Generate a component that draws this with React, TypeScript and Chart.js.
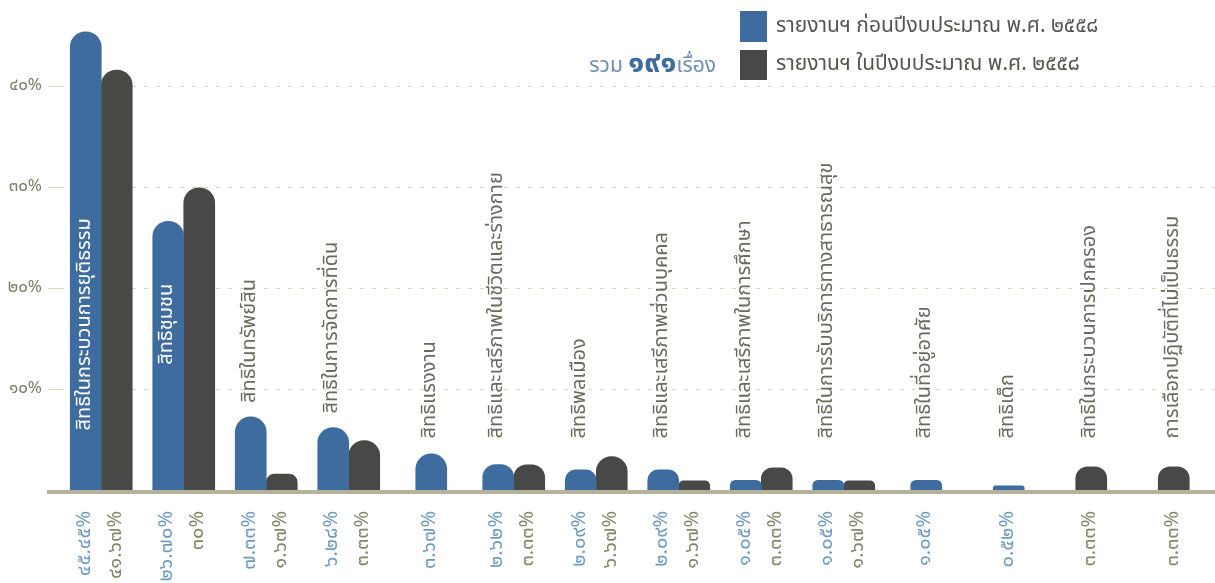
import React, { useEffect, useRef } from "react";
import { Chart, registerables } from "chart.js";

Chart.register(...registerables);

// ---------- data ----------
const categories = [
  "สิทธิในกระบวนการยุติธรรม",
  "สิทธิชุมชน",
  "สิทธิในทรัพย์สิน",
  "สิทธิในการจัดการที่ดิน",
  "สิทธิแรงงาน",
  "สิทธิและเสรีภาพในชีวิตและร่างกาย",
  "สิทธิพลเมือง",
  "สิทธิและเสรีภาพส่วนบุคคล",
  "สิทธิและเสรีภาพในการศึกษา",
  "สิทธิในการรับบริการทางสาธารณสุข",
  "สิทธิในที่อยู่อาศัย",
  "สิทธิเด็ก",
  "สิทธิในกระบวนการปกครอง",
  "การเลือกปฏิบัติที่ไม่เป็นธรรม",
];

const seriesNames = [
  "รายงานฯ ก่อนปีงบประมาณ พ.ศ. ๒๕๕๘",
  "รายงานฯ ในปีงบประมาณ พ.ศ. ๒๕๕๘",
];

// bar heights (percent)
const beforeValues: (number | null)[] = [45.45, 26.7, 7.33, 6.28, 3.67, 2.62, 2.09, 2.09, 1.05, 1.05, 1.05, 0.52, null, null];
const duringValues: (number | null)[] = [41.67, 30, 1.67, 5.0, null, 2.6, 3.4, 1.0, 2.3, 1.0, null, null, 2.4, 2.4];

// printed value labels under the axis
const beforeLabels = ["๔๕.๔๕%", "๒๖.๗๐%", "๗.๓๓%", "๖.๒๘%", "๓.๖๗%", "๒.๖๒%", "๒.๐๙%", "๒.๐๙%", "๑.๐๕%", "๑.๐๕%", "๑.๐๕%", "๐.๕๒%", "", ""];
const duringLabels = ["๔๑.๖๗%", "๓๐%", "๑.๖๗%", "๓.๓๓%", "", "๓.๓๓%", "๖.๖๗%", "๑.๖๗%", "๓.๓๓%", "๑.๖๗%", "", "", "๓.๓๓%", "๓.๓๓%"];

const yTickValues = [10, 20, 30, 40];
const yTickLabels = ["๑๐%", "๒๐%", "๓๐%", "๔๐%"];

const totalPrefix = "รวม ";
const totalNumber = "๑๙๑";
const totalSuffix = "เรื่อง";

// ---------- style ----------
const FONT = "'Noto Sans Thai', 'Noto Sans', 'DejaVu Sans', sans-serif";
const BLUE = "#3e6c9e";
const DARK = "#484846";
const AXIS = "#b4b29c";
const GRID = "#dcd9c0";
const TICK_TEXT = "#7c7b68";
const CAT_TEXT = "#6a6a5c";
const BLUE_TEXT = "#6f9bbf";
const DARK_TEXT = "#86866a";
const INSIDE_CENTER = 16.5;
const OUTSIDE_BASE = 5.2;

const labelPlugin = {
  id: "barTexts",
  afterDatasetsDraw(chart: any) {
    const { ctx, scales } = chart;
    const y = scales.y;
    const base = y.getPixelForValue(0);
    ctx.save();
    // thick baseline
    ctx.strokeStyle = AXIS;
    ctx.lineWidth = 4;
    ctx.beginPath();
    ctx.moveTo(47, base + 1);
    ctx.lineTo(chart.width, base + 1);
    ctx.stroke();

    const metas = [chart.getDatasetMeta(0), chart.getDatasetMeta(1)];
    const texts = [beforeLabels, duringLabels];
    const colors = [BLUE_TEXT, DARK_TEXT];

    // value labels below the axis
    metas.forEach((meta: any, d: number) => {
      meta.data.forEach((el: any, i: number) => {
        const v = chart.data.datasets[d].data[i];
        if (v == null) return;
        ctx.save();
        ctx.translate(el.x, base + 20);
        ctx.rotate(-Math.PI / 2);
        ctx.font = `20px ${FONT}`;
        ctx.textAlign = "right";
        ctx.textBaseline = "middle";
        ctx.fillStyle = colors[d];
        ctx.fillText(texts[d][i], 0, 0);
        ctx.restore();
      });
    });

    // category names
    categories.forEach((name, i) => {
      const els = metas
        .map((m: any, d: number) => ({ el: m.data[i], v: chart.data.datasets[d].data[i] }))
        .filter((o: any) => o.v != null);
      if (!els.length) return;
      const first = els[0];
      const top = Math.min(...els.map((o: any) => o.el.y));
      ctx.save();
      ctx.font = `20px ${FONT}`;
      ctx.textBaseline = "middle";
      if (first.v > 20) {
        ctx.translate(first.el.x, y.getPixelForValue(INSIDE_CENTER));
        ctx.rotate(-Math.PI / 2);
        ctx.textAlign = "center";
        ctx.fillStyle = "#ffffff";
      } else {
        const bottom = Math.min(y.getPixelForValue(OUTSIDE_BASE), top - 14);
        ctx.translate(first.el.x, bottom);
        ctx.rotate(-Math.PI / 2);
        ctx.textAlign = "left";
        ctx.fillStyle = CAT_TEXT;
      }
      ctx.fillText(name, 0, 0);
      ctx.restore();
    });
    ctx.restore();
  },
};

export default function App() {
  const ref = useRef<HTMLCanvasElement>(null);

  useEffect(() => {
    document.body.style.margin = "0";
    const chart = new Chart(ref.current as HTMLCanvasElement, {
      type: "bar",
      data: {
        labels: categories,
        datasets: [
          { label: seriesNames[0], data: beforeValues, backgroundColor: BLUE },
          { label: seriesNames[1], data: duringValues, backgroundColor: DARK },
        ],
      },
      options: {
        animation: false,
        responsive: false,
        layout: { padding: { top: 6, right: -21, bottom: 92, left: 0 } },
        datasets: {
          bar: {
            barThickness: 31,
            skipNull: true,
            borderRadius: 16,
            borderSkipped: "start",
          },
        },
        plugins: { legend: { display: false }, tooltip: { enabled: false } },
        scales: {
          x: { display: false },
          y: {
            min: 0,
            max: 48,
            afterBuildTicks: (axis: any) => {
              axis.ticks = yTickValues.map((v) => ({ value: v }));
            },
            afterFit: (s: any) => {
              s.width = 60;
              s.paddingTop = 0;
              s.paddingBottom = 0;
            },
            ticks: {
              callback: (_v: any, idx: number) => yTickLabels[idx],
              color: TICK_TEXT,
              font: { size: 17, family: FONT },
              padding: 6,
            },
            grid: { color: GRID, lineWidth: 1, tickLength: 12, drawTicks: true },
            border: { display: false, dash: [4, 8] },
          },
        },
      } as any,
      plugins: [labelPlugin],
    });
    return () => chart.destroy();
  }, []);

  const legendText: React.CSSProperties = {
    position: "absolute",
    left: 776,
    fontFamily: FONT,
    fontSize: 21,
    color: "#555550",
    whiteSpace: "nowrap",
  };

  return (
    <div style={{ position: "relative", width: 1215, height: 583, background: "#ffffff", overflow: "hidden" }}>
      <canvas ref={ref} width={1215} height={583} style={{ position: "absolute", left: 0, top: 0 }} />
      <div style={{ position: "absolute", left: 740, top: 11, width: 27, height: 31, background: BLUE }} />
      <div style={{ ...legendText, top: 10, height: 31, lineHeight: "31px" }}>{seriesNames[0]}</div>
      <div style={{ position: "absolute", left: 740, top: 50, width: 27, height: 30, background: DARK }} />
      <div style={{ ...legendText, top: 49, height: 30, lineHeight: "30px" }}>{seriesNames[1]}</div>
      <div
        style={{
          position: "absolute",
          right: 1215 - 716,
          top: 47,
          height: 32,
          lineHeight: "32px",
          fontFamily: FONT,
          fontSize: 21,
          color: "#6f8fb2",
          whiteSpace: "nowrap",
        }}
      >
        {totalPrefix}
        <span style={{ fontSize: 30, fontWeight: 700, color: BLUE }}>{totalNumber}</span>
        {totalSuffix}
      </div>
    </div>
  );
}
